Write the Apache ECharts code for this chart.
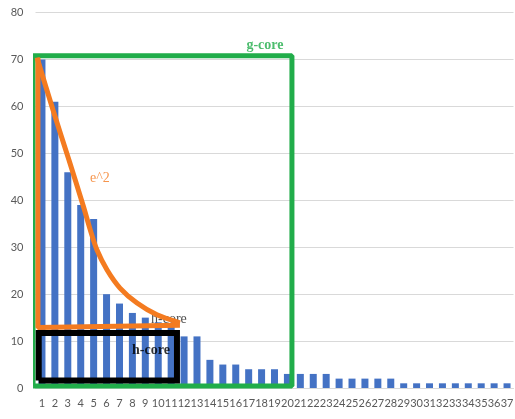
<!DOCTYPE html>
<html><head><meta charset="utf-8">
<script src="https://cdn.jsdelivr.net/npm/echarts@6/dist/echarts.min.js"></script>
<style>html,body{margin:0;padding:0;background:#fff}#c{width:515px;height:419px}</style>
</head><body><div id="c"></div>
<script>
// ---- data ----
const categories = ['1','2','3','4','5','6','7','8','9','10','11','12','13','14','15','16','17','18','19','20','21','22','23','24','25','26','27','28','29','30','31','32','33','34','35','36','37'];
const citations = [70,61,46,39,36,20,18,16,15,14,13,11,11,6,5,5,4,4,4,3,3,3,3,2,2,2,2,2,1,1,1,1,1,1,1,1,1];
const yMin = 0, yMax = 80, yStep = 10;
// annotation shapes in (rank, citations) coordinates
const gCoreBox = [[0.31,0.43],[0.31,70.8],[20.35,70.8],[20.35,0.43],[0.31,0.43]];
const hCoreBox = [[0.75,1.6],[0.75,11.7],[11.45,11.7],[11.45,1.6],[0.75,1.6]];
const e2Curve = [[0.62,70.4],[1.85,59.3],[3.09,48.6],[4.2,38.8],[4.75,33.6],[5.26,29.4],[6.03,25.2],[7.04,21.3],[8.36,18.1],[9.9,15.6],[11.68,13.9]];
const e2Base = [[0.69,70.4],[0.69,12.9],[11.68,13.4]];
const labelsFront = [
  {name:'g-core', value:[18.26,73.1], color:'#21ad4a', weight:'bold', size:14},
  {name:'e^2', value:[5.49,44.6], color:'#f47b20', weight:'normal', size:14},
  {name:'h-core', value:[9.44,8.1], color:'#000000', weight:'bold', size:14}
];
const labelsBack = [
  {name:'h-core', value:[10.83,14.7], color:'#222222', weight:'normal', size:14}
];

const chart = echarts.init(document.getElementById('c'), null, {renderer:'canvas'});
function textSeries(arr, z){
  return {
    type:'scatter', xAxisIndex:1, symbolSize:0, z:z, silent:true,
    data: arr.map(d=>({name:d.name, value:d.value, label:{show:true, position:'inside', formatter:d.name, color:d.color, fontWeight:d.weight, fontFamily:'Liberation Serif', fontSize:d.size}}))
  };
}
chart.setOption({
  animation:false,
  backgroundColor:'#ffffff',
  grid:{left:35.5, right:1.5, top:12.7, bottom:31, outerBoundsMode:'none', containLabel:false},
  xAxis:[
    {type:'category', data:categories, axisTick:{show:false},
     axisLine:{show:true, lineStyle:{color:'#d9d9d9'}},
     axisLabel:{interval:0, color:'#595959', fontFamily:'Lato', fontSize:11, margin:10}},
    {type:'value', min:0.5, max:37.5, show:false}
  ],
  yAxis:{type:'value', min:yMin, max:yMax, interval:yStep,
    axisLine:{show:false}, axisTick:{show:false},
    splitLine:{lineStyle:{color:'#d9d9d9', width:1}},
    axisLabel:{color:'#595959', fontFamily:'Lato', fontSize:11, margin:12}},
  series:[
    textSeries(labelsBack, 1),
    {type:'bar', data:citations, barWidth:7, itemStyle:{color:'#4472c4'}, z:2},
    {type:'line', xAxisIndex:1, data:gCoreBox, clip:false, symbol:'none', lineStyle:{color:'#21ad4a', width:5}, z:3},
    {type:'line', xAxisIndex:1, data:hCoreBox, clip:false, symbol:'none', lineStyle:{color:'#000000', width:6, join:'miter'}, z:4},
    {type:'line', xAxisIndex:1, data:e2Base, clip:false, symbol:'none', lineStyle:{color:'#f47b20', width:5}, z:5},
    {type:'line', xAxisIndex:1, data:e2Curve, clip:false, smooth:0.3, symbol:'none', lineStyle:{color:'#f47b20', width:5}, z:5},
    textSeries(labelsFront, 6)
  ]
});
</script></body></html>
